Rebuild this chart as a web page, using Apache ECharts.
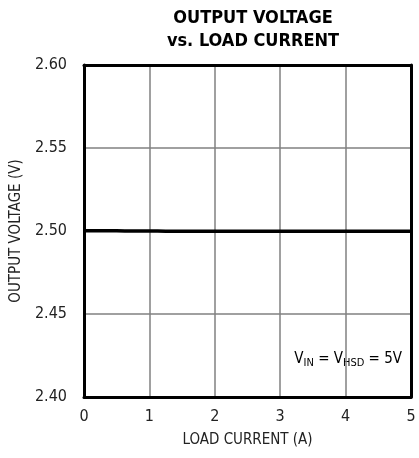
<!DOCTYPE html>
<html>
<head>
  <meta charset="utf-8">
  <title>Output Voltage vs. Load Current</title>
  <script src="https://cdn.jsdelivr.net/npm/echarts@6/dist/echarts.min.js"></script>
  <style>
    html, body { margin: 0; padding: 0; background: #fff; }
    #chart { width: 419px; height: 458px; }
  </style>
</head>
<body>
  <div id="chart"></div>
  <script>
    // load current (A) and measured output voltage (V)
    const loadCurrent = [0, 0.25, 0.5, 0.75, 1, 1.25, 1.5, 1.75, 2, 2.25, 2.5, 2.75, 3, 3.25, 3.5, 3.75, 4, 4.25, 4.5, 4.75, 5];
    const outputVoltage = [2.5002, 2.5001, 2.5001, 2.5000, 2.5000, 2.4999, 2.4999, 2.4998, 2.4998, 2.4998, 2.4998, 2.4998, 2.4998, 2.4998, 2.4998, 2.4998, 2.4998, 2.4998, 2.4998, 2.4998, 2.4998];
    const xTicks = [0, 1, 2, 3, 4, 5];
    const yTicks = [2.40, 2.45, 2.50, 2.55, 2.60];

    const font = '"Liberation Sans Narrow", "DejaVu Sans Condensed", sans-serif';
    const frame = { show: true, onZero: false, lineStyle: { color: '#000', width: 3 } };
    const grid = { lineStyle: { color: '#808080', width: 1.5 } };
    const chart = echarts.init(document.getElementById('chart'));

    chart.setOption({
      animation: false,
      title: {
        text: 'OUTPUT VOLTAGE\nvs. LOAD CURRENT',
        left: 248,
        top: 2,
        textAlign: 'center',
        textStyle: {
          fontFamily: font,
          fontWeight: 'bold',
          fontSize: 18,
          lineHeight: 23,
          color: '#000'
        }
      },
      grid: {
        left: 84,
        right: 8,
        top: 65,
        bottom: 61,
        containLabel: false,
        outerBoundsMode: 'none'
      },
      xAxis: [{
        type: 'value',
        position: 'bottom',
        min: xTicks[0],
        max: xTicks[xTicks.length - 1],
        interval: 1,
        name: 'LOAD CURRENT (A)',
        nameLocation: 'middle',
        nameGap: 36,
        nameTextStyle: { fontFamily: font, fontSize: 15, color: '#222' },
        axisLine: frame,
        axisTick: { show: false },
        axisLabel: { fontFamily: font, fontSize: 16, color: '#222', margin: 12 },
        splitLine: grid
      }, {
        type: 'value',
        position: 'top',
        min: xTicks[0],
        max: xTicks[xTicks.length - 1],
        interval: 1,
        axisLine: frame,
        axisTick: { show: false },
        axisLabel: { show: false },
        splitLine: { show: false }
      }],
      yAxis: [{
        type: 'value',
        position: 'left',
        min: yTicks[0],
        max: yTicks[yTicks.length - 1],
        interval: 0.05,
        name: 'OUTPUT VOLTAGE (V)',
        nameLocation: 'middle',
        nameGap: 60,
        nameTextStyle: { fontFamily: font, fontSize: 15, color: '#222' },
        axisLine: frame,
        axisTick: { show: false },
        axisLabel: {
          fontFamily: font, fontSize: 16, color: '#222', margin: 17,
          formatter: function (v) { return v.toFixed(2); }
        },
        splitLine: grid
      }, {
        type: 'value',
        position: 'right',
        min: yTicks[0],
        max: yTicks[yTicks.length - 1],
        interval: 0.05,
        axisLine: frame,
        axisTick: { show: false },
        axisLabel: { show: false },
        splitLine: { show: false }
      }],
      graphic: [{
        type: 'text',
        right: 17,
        top: 352,
        style: {
          text: '{n|V}{s|IN}{n| = V}{s|HSD}{n| = 5V}',
          rich: {
            n: { fontFamily: font, fontSize: 15, color: '#222' },
            s: { fontFamily: font, fontSize: 11, color: '#222', verticalAlign: 'bottom', padding: [8, 0, 0, 0] }
          }
        }
      }],
      series: [{
        type: 'line',
        data: loadCurrent.map(function (x, i) { return [x, outputVoltage[i]]; }),
        showSymbol: false,
        smooth: true,
        lineStyle: { color: '#000', width: 3.5 }
      }]
    });
  </script>
</body>
</html>
